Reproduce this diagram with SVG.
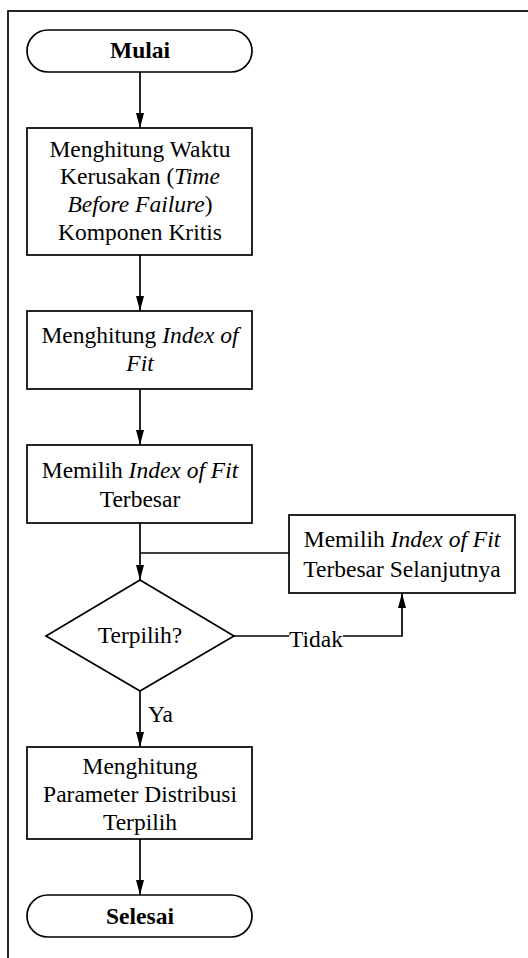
<svg xmlns="http://www.w3.org/2000/svg" width="528" height="958" viewBox="0 0 528 958">
<style>
.s{fill:#fff;stroke:#000;stroke-width:1.7}
.c{fill:none;stroke:#000;stroke-width:1.7}
text{font-size:23.5px;fill:#000;text-anchor:middle}
.b{font-weight:bold}
.i{font-style:italic}
</style>
<defs>
<marker id="ah" viewBox="0 0 15 8" refX="15" refY="4" markerWidth="15" markerHeight="8" markerUnits="userSpaceOnUse" orient="auto">
<path d="M0,0 L15,4 L0,8 Z" fill="#000"/>
</marker>
</defs>
<rect x="8" y="11" width="600" height="1000" fill="#fff" stroke="#000" stroke-width="1.7"/>
<g font-family="'Liberation Serif', 'Times New Roman', 'DejaVu Serif', serif">
<g id="connectors">
<line class="c" x1="140" y1="72" x2="140" y2="128" marker-end="url(#ah)"/>
<line class="c" x1="140" y1="255" x2="140" y2="311" marker-end="url(#ah)"/>
<line class="c" x1="140" y1="389" x2="140" y2="445" marker-end="url(#ah)"/>
<line class="c" x1="140" y1="523" x2="140" y2="580" marker-end="url(#ah)"/>
<line class="c" x1="289" y1="553" x2="140" y2="553"/>
<polyline class="c" points="234,636 289,636"/>
<polyline class="c" points="343,636 402,636 402,593" marker-end="url(#ah)"/>
<text x="316" y="647">Tidak</text>
<line class="c" x1="140" y1="691" x2="140" y2="747" marker-end="url(#ah)"/>
<text x="148" y="722" style="text-anchor:start">Ya</text>
<line class="c" x1="140" y1="839" x2="140" y2="895" marker-end="url(#ah)"/>
</g>
<g id="mulai">
<rect class="s" x="27" y="30" width="225" height="42" rx="21" ry="21"/>
<text class="b" x="140" y="58">Mulai</text>
</g>
<g id="hitung-tbf">
<rect class="s" x="27" y="128" width="225" height="127"/>
<text x="140" y="157">Menghitung Waktu</text>
<text x="140" y="184">Kerusakan (<tspan class="i">Time</tspan></text>
<text x="140" y="212"><tspan class="i">Before Failure</tspan>)</text>
<text x="140" y="240">Komponen Kritis</text>
</g>
<g id="hitung-iof">
<rect class="s" x="27" y="311" width="225" height="78"/>
<text x="140" y="343">Menghitung <tspan class="i">Index of</tspan></text>
<text x="140" y="371" class="i">Fit</text>
</g>
<g id="pilih-iof">
<rect class="s" x="27" y="445" width="225" height="78"/>
<text x="140" y="478">Memilih <tspan class="i">Index of Fit</tspan></text>
<text x="140" y="507">Terbesar</text>
</g>
<g id="pilih-selanjutnya">
<rect class="s" x="289" y="515" width="226" height="78"/>
<text x="402" y="547">Memilih <tspan class="i">Index of Fit</tspan></text>
<text x="402" y="577">Terbesar Selanjutnya</text>
</g>
<g id="terpilih">
<polygon class="s" points="140,580 234,636 140,691 46,636"/>
<text x="140" y="643">Terpilih?</text>
</g>
<g id="hitung-param">
<rect class="s" x="27" y="747" width="225" height="92"/>
<text x="140" y="774">Menghitung</text>
<text x="140" y="802">Parameter Distribusi</text>
<text x="140" y="830">Terpilih</text>
</g>
<g id="selesai">
<rect class="s" x="27" y="895" width="225" height="42" rx="21" ry="21"/>
<text class="b" x="140" y="924">Selesai</text>
</g>
</g>
</svg>
